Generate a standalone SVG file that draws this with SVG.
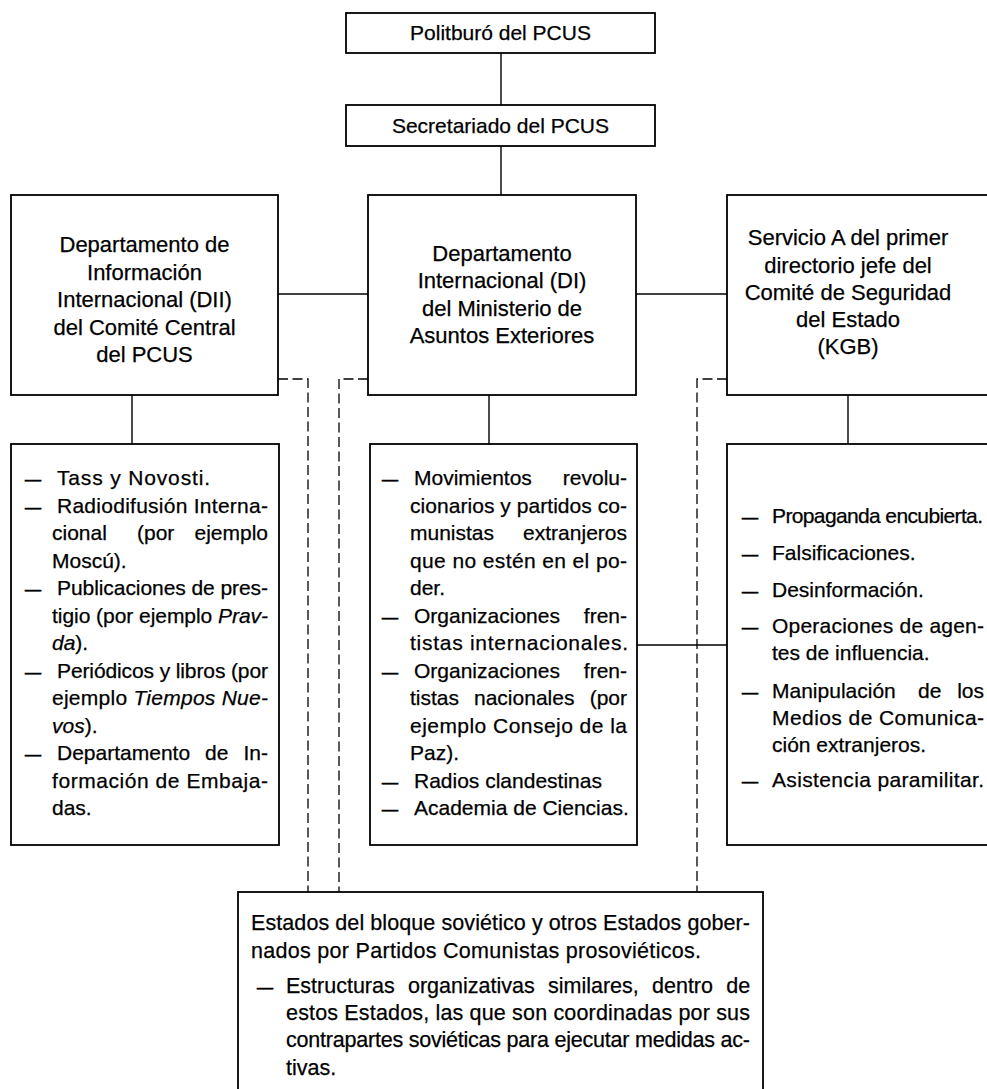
<svg xmlns="http://www.w3.org/2000/svg" width="987" height="1089" viewBox="0 0 987 1089">
<style>
.box{fill:#fff;stroke:#000;stroke-width:1.8}
.ln{fill:none;stroke:#000;stroke-width:1.4}
.dash{fill:none;stroke:#000;stroke-width:1.3;stroke-dasharray:10 4.5}
text{font-family:"Liberation Sans",Arial,sans-serif;fill:#000;stroke:#000;stroke-width:0.25}
.t{font-size:21px;text-anchor:middle}
.h{font-size:22px;text-anchor:middle}
.l{font-size:21px}
.b{font-size:21.5px}
.d{font-size:16px;stroke-width:0.7}
.i{font-style:italic}
</style>
<rect width="987" height="1089" fill="#fff"/>
<g id="connectors">
<path class="ln" d="M501,53V105M501,146V195M278,294H368M636,294H727M132,395V444M489,395V444M848,395V444M637,645H727"/>
<path class="dash" d="M278,379H308V892M368,379H339V892M727,379H697V892"/>
</g>
<g id="politburo">
<rect class="box" x="346" y="13" width="309" height="40"/>
<text class="t" x="500.5" y="40">Politburó del PCUS</text>
</g>
<g id="secretariado">
<rect class="box" x="346" y="105" width="309" height="41"/>
<text class="t" x="500.5" y="133">Secretariado del PCUS</text>
</g>
<g id="dii">
<rect class="box" x="11" y="195" width="267" height="200"/>
<text class="h" x="144.5" y="252">Departamento de</text>
<text class="h" x="144.5" y="280">Información</text>
<text class="h" x="144.5" y="307">Internacional (DII)</text>
<text class="h" x="144.5" y="335">del Comité Central</text>
<text class="h" x="144.5" y="362">del PCUS</text>
</g>
<g id="di">
<rect class="box" x="368" y="195" width="268" height="200"/>
<text class="h" x="502" y="261">Departamento</text>
<text class="h" x="502" y="288">Internacional (DI)</text>
<text class="h" x="502" y="316">del Ministerio de</text>
<text class="h" x="502" y="343">Asuntos Exteriores</text>
</g>
<g id="kgb">
<rect class="box" x="727" y="195" width="280" height="200"/>
<text class="h" x="848" y="245">Servicio A del primer</text>
<text class="h" x="848" y="273">directorio jefe del</text>
<text class="h" x="848" y="300">Comité de Seguridad</text>
<text class="h" x="848" y="327">del Estado</text>
<text class="h" x="848" y="354">(KGB)</text>
</g>
<g id="dii-list">
<rect class="box" x="11" y="444" width="268" height="401"/>
<text class="d" x="25" y="485">—</text>
<text class="l" x="57" y="485" textLength="153" lengthAdjust="spacing">Tass y Novosti.</text>
<text class="d" x="25" y="512.5">—</text>
<text class="l" x="57" y="512.5" textLength="211" lengthAdjust="spacing">Radiodifusión Interna-</text>
<text class="l" y="540"><tspan x="52">cional</tspan> <tspan x="137">(por</tspan> <tspan x="268" text-anchor="end">ejemplo</tspan></text>
<text class="l" x="52" y="567.5">Moscú).</text>
<text class="d" x="25" y="595">—</text>
<text class="l" x="57" y="595" textLength="211" lengthAdjust="spacing">Publicaciones de pres-</text>
<text class="l" x="52" y="622.5" textLength="216" lengthAdjust="spacing">tigio (por ejemplo <tspan class="i">Prav-</tspan></text>
<text class="l" x="52" y="650"><tspan class="i">da</tspan>).</text>
<text class="d" x="25" y="677.5">—</text>
<text class="l" x="57" y="677.5" textLength="211" lengthAdjust="spacing">Periódicos y libros (por</text>
<text class="l" x="52" y="705" textLength="216" lengthAdjust="spacing">ejemplo <tspan class="i">Tiempos Nue-</tspan></text>
<text class="l" x="52" y="732.5"><tspan class="i">vos</tspan>).</text>
<text class="d" x="25" y="760">—</text>
<text class="l" y="760"><tspan x="57">Departamento</tspan> <tspan x="205">de</tspan> <tspan x="268" text-anchor="end">In-</tspan></text>
<text class="l" x="52" y="787.5" textLength="216" lengthAdjust="spacing">formación de Embaja-</text>
<text class="l" x="52" y="815">das.</text>
</g>
<g id="di-list">
<rect class="box" x="370" y="444" width="267" height="401"/>
<text class="d" x="382" y="485">—</text>
<text class="l" y="485"><tspan x="414">Movimientos</tspan> <tspan x="627" text-anchor="end">revolu-</tspan></text>
<text class="l" x="410" y="512.5" textLength="217" lengthAdjust="spacing">cionarios y partidos co-</text>
<text class="l" y="540"><tspan x="410">munistas</tspan> <tspan x="627" text-anchor="end">extranjeros</tspan></text>
<text class="l" x="410" y="567.5" textLength="217" lengthAdjust="spacing">que no estén en el po-</text>
<text class="l" x="410" y="595">der.</text>
<text class="d" x="382" y="622.5">—</text>
<text class="l" y="622.5"><tspan x="414">Organizaciones</tspan> <tspan x="627" text-anchor="end">fren-</tspan></text>
<text class="l" x="410" y="650" textLength="218" lengthAdjust="spacing">tistas internacionales.</text>
<text class="d" x="382" y="677.5">—</text>
<text class="l" y="677.5"><tspan x="414">Organizaciones</tspan> <tspan x="627" text-anchor="end">fren-</tspan></text>
<text class="l" y="705"><tspan x="410">tistas</tspan> <tspan x="474">nacionales</tspan> <tspan x="627" text-anchor="end">(por</tspan></text>
<text class="l" x="410" y="732.5" textLength="217" lengthAdjust="spacing">ejemplo Consejo de la</text>
<text class="l" x="410" y="760">Paz).</text>
<text class="d" x="382" y="787.5">—</text>
<text class="l" x="414" y="787.5">Radios clandestinas</text>
<text class="d" x="382" y="815">—</text>
<text class="l" x="414" y="815">Academia de Ciencias.</text>
</g>
<g id="kgb-list">
<rect class="box" x="727" y="444" width="280" height="401"/>
<text class="d" x="742" y="523">—</text>
<text class="l" x="772" y="523" textLength="211" lengthAdjust="spacing">Propaganda encubierta.</text>
<text class="d" x="742" y="560">—</text>
<text class="l" x="772" y="560">Falsificaciones.</text>
<text class="d" x="742" y="597">—</text>
<text class="l" x="772" y="597">Desinformación.</text>
<text class="d" x="742" y="633">—</text>
<text class="l" x="772" y="633" textLength="212" lengthAdjust="spacing">Operaciones de agen-</text>
<text class="l" x="772" y="660">tes de influencia.</text>
<text class="d" x="742" y="698">—</text>
<text class="l" y="698"><tspan x="772">Manipulación</tspan> <tspan x="918">de</tspan> <tspan x="984" text-anchor="end">los</tspan></text>
<text class="l" x="772" y="725" textLength="212" lengthAdjust="spacing">Medios de Comunica-</text>
<text class="l" x="772" y="752">ción extranjeros.</text>
<text class="d" x="742" y="787">—</text>
<text class="l" x="772" y="787" textLength="212" lengthAdjust="spacing">Asistencia paramilitar.</text>
</g>
<g id="bloque">
<rect class="box" x="238" y="892" width="525" height="230"/>
<text class="b" x="251" y="930" textLength="499" lengthAdjust="spacing">Estados del bloque soviético y otros Estados gober-</text>
<text class="b" x="251" y="958" textLength="450" lengthAdjust="spacing">nados por Partidos Comunistas prosoviéticos.</text>
<text class="d" x="257" y="993">—</text>
<text class="b" x="286" y="993" word-spacing="7.3">Estructuras organizativas similares, dentro de</text>
<text class="b" x="286" y="1020" textLength="464" lengthAdjust="spacing">estos Estados, las que son coordinadas por sus</text>
<text class="b" x="286" y="1047" textLength="464" lengthAdjust="spacing">contrapartes soviéticas para ejecutar medidas ac-</text>
<text class="b" x="286" y="1075">tivas.</text>
</g>
</svg>
